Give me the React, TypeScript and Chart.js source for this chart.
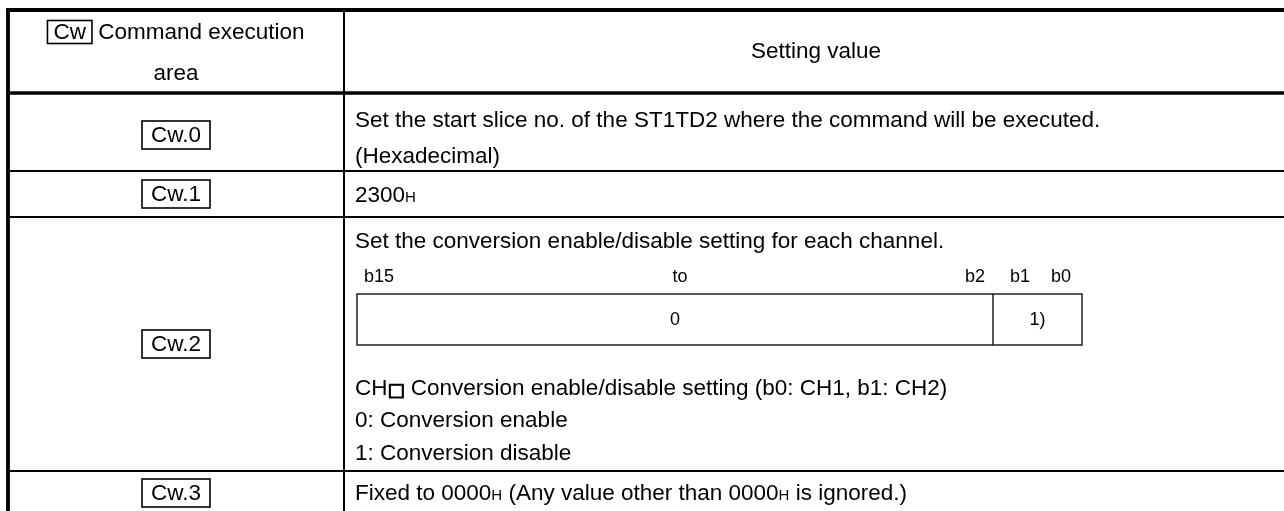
import React, { useEffect, useRef } from "react";
import { Chart, registerables } from "chart.js";

Chart.register(...registerables);

// ---- table content ----
const headerKey = "Cw";
const headerLeftLines = ["Command execution", "area"];
const headerRight = "Setting value";
const rowKeys = ["Cw.0", "Cw.1", "Cw.2", "Cw.3"];
const cw0Lines = [
  "Set the start slice no. of the ST1TD2 where the command will be executed.",
  "(Hexadecimal)",
];
// [text, style] style: 0 normal, 1 subscript, 2 heavy symbol
const cw1Value: [string, number][] = [["2300", 0], ["H", 1]];
const cw2Intro = "Set the conversion enable/disable setting for each channel.";
const bitLabels = ["b15", "to", "b2", "b1", "b0"];
const bitCells = ["0", "1)"];
const cw2NoteFirst: [string, number][] = [
  ["CH", 0],
  ["\u25A1", 2],
  [" Conversion enable/disable setting (b0: CH1, b1: CH2)", 0],
];
const cw2Notes = ["0: Conversion enable", "1: Conversion disable"];
const cw3Value: [string, number][] = [
  ["Fixed to 0000", 0],
  ["H", 1],
  [" (Any value other than 0000", 0],
  ["H", 1],
  [" is ignored.)", 0],
];

// ---- layout (page units) ----
const W = 1284;
const H = 511;
const rowEdges = [10, 93, 171, 217, 471, 515];
const colEdges = [8, 344, 1288];
const FONT = '"Liberation Sans", Arial, sans-serif';
const SYMFONT = '"DejaVu Sans", sans-serif';
const MAIN = 22.5;
const SMALL = 18;
const SUB = 15;

const tablePlugin = {
  id: "tablePlugin",
  afterDraw(chart: any) {
    const { ctx } = chart;
    const sx = chart.scales.x;
    const sy = chart.scales.y;
    const px = (v: number) => sx.getPixelForValue(v);
    const py = (v: number) => sy.getPixelForValue(v);
    ctx.save();
    ctx.fillStyle = "#ffffff";
    ctx.fillRect(px(0), py(0), px(W) - px(0), py(H) - py(0));

    const line = (x1: number, y1: number, x2: number, y2: number, w: number, c = "#000") => {
      ctx.beginPath();
      ctx.strokeStyle = c;
      ctx.lineWidth = w;
      ctx.moveTo(px(x1), py(y1));
      ctx.lineTo(px(x2), py(y2));
      ctx.stroke();
    };
    const font = (s: number, fam = FONT) => (ctx.font = `${s}px ${fam}`);
    ctx.fillStyle = "#000";
    ctx.textBaseline = "middle";

    const drawRich = (segs: [string, number][], x: number, y: number) => {
      let cx = px(x);
      ctx.textAlign = "left";
      ctx.textBaseline = "alphabetic";
      const base = py(y) + MAIN * 0.33;
      for (const [t, st] of segs) {
        if (st === 2) {
          font(MAIN * 0.8, SYMFONT);
          ctx.lineWidth = 1.1;
          ctx.strokeStyle = "#000";
          ctx.strokeText(t, cx, base + 1);
          ctx.fillText(t, cx, base + 1);
        } else {
          font(st === 1 ? SUB : MAIN);
          ctx.fillText(t, cx, base);
        }
        cx += ctx.measureText(t).width;
      }
      ctx.textBaseline = "middle";
    };
    const text = (t: string, x: number, y: number, size: number, align: CanvasTextAlign = "left") => {
      font(size);
      ctx.textAlign = align;
      ctx.fillText(t, px(x), py(y));
    };
    const boxed = (t: string, cxv: number, cyv: number, padX: number, h: number) => {
      font(MAIN);
      const tw = ctx.measureText(t).width;
      const bw = tw + padX * 2;
      ctx.lineWidth = 1.6;
      ctx.strokeStyle = "#000";
      ctx.strokeRect(px(cxv) - bw / 2, py(cyv) - h / 2, bw, h);
      ctx.textAlign = "center";
      ctx.fillText(t, px(cxv), py(cyv) + 1);
    };

    // grid lines
    const thick = 3.8;
    const thin = 2;
    const [x0, x1, x2] = colEdges;
    line(x0 - thick / 2, rowEdges[0], x2, rowEdges[0], thick);
    line(x0, rowEdges[0], x0, rowEdges[5], thick);
    line(x0, rowEdges[1], x2, rowEdges[1], 3.3);
    for (let i = 2; i < rowEdges.length; i++) line(x0, rowEdges[i], x2, rowEdges[i], thin);
    line(x1, rowEdges[0], x1, rowEdges[5], thin);
    line(x2, rowEdges[0], x2, rowEdges[5], thick);

    const leftC = (x0 + x1) / 2;
    const rightC = (x1 + x2) / 2;
    const textX = 355;

    // header left
    font(MAIN);
    const kw = ctx.measureText(headerKey).width;
    const restW = ctx.measureText(" " + headerLeftLines[0]).width;
    const boxPad = 6;
    const total = kw + boxPad * 2 + restW;
    const startPx = px(leftC) - total / 2;
    ctx.lineWidth = 1.6;
    ctx.strokeStyle = "#000";
    ctx.strokeRect(startPx, py(32) - 11.5, kw + boxPad * 2, 23);
    ctx.textAlign = "left";
    ctx.fillText(headerKey, startPx + boxPad, py(32) + 1);
    ctx.fillText(" " + headerLeftLines[0], startPx + kw + boxPad * 2, py(32) + 1);
    text(headerLeftLines[1], leftC, 74, MAIN, "center");
    // header right
    text(headerRight, rightC, 52, MAIN, "center");

    // key column
    const rowCenters = [135, 194, 344, 493];
    rowKeys.forEach((k, i) => boxed(k, leftC, rowCenters[i], 9, 28));

    // Cw.0
    text(cw0Lines[0], textX, 121, MAIN);
    text(cw0Lines[1], textX, 157, MAIN);
    // Cw.1
    drawRich(cw1Value, textX, 195);
    // Cw.2
    text(cw2Intro, textX, 242, MAIN);
    const bitX = [364, 680, 985, 1020, 1061];
    const bitAlign: CanvasTextAlign[] = ["left", "center", "right", "center", "center"];
    bitLabels.forEach((b, i) => text(b, bitX[i], 277, SMALL, bitAlign[i]));
    const bx0 = 357, bxm = 993, bx1 = 1082, by0 = 294, by1 = 345;
    ctx.lineWidth = 1.4;
    ctx.strokeStyle = "#111";
    ctx.strokeRect(px(bx0), py(by0), px(bx1) - px(bx0), py(by1) - py(by0));
    line(bxm, by0, bxm, by1, 1.4, "#111");
    text(bitCells[0], (bx0 + bxm) / 2, 320, SMALL, "center");
    text(bitCells[1], (bxm + bx1) / 2, 320, SMALL, "center");
    drawRich(cw2NoteFirst, textX, 388);
    const noteY = [421, 454];
    cw2Notes.forEach((n, i) => text(n, textX, noteY[i], MAIN));
    // Cw.3
    drawRich(cw3Value, textX, 493);
    ctx.restore();
  },
};

export default function App() {
  const ref = useRef<HTMLCanvasElement | null>(null);
  useEffect(() => {
    if (!ref.current) return;
    const chart = new Chart(ref.current, {
      type: "scatter",
      data: { datasets: [{ data: [], pointRadius: 0 }] },
      options: {
        animation: false,
        responsive: false,
        devicePixelRatio: 1,
        layout: { padding: 0 },
        events: [],
        plugins: { legend: { display: false }, tooltip: { enabled: false } },
        scales: {
          x: { type: "linear", min: 0, max: W, display: false },
          y: { type: "linear", min: 0, max: H, reverse: true, display: false },
        },
      },
      plugins: [tablePlugin],
    });
    return () => chart.destroy();
  }, []);
  return (
    <div style={{ position: "absolute", left: 0, top: 0, width: W, height: H, background: "#fff" }}>
      <canvas ref={ref} width={W} height={H} style={{ width: W, height: H, display: "block" }} />
    </div>
  );
}
